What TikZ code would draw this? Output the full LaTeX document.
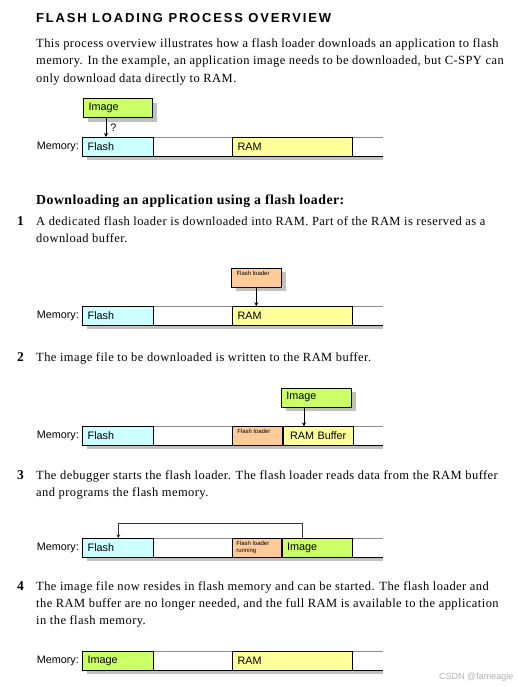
\documentclass[tikz,border=0pt]{standalone}
\usepackage{fontspec}
\setmainfont{Liberation Serif}[LetterSpace=3.5]
\setsansfont{Liberation Sans}
\newfontfamily\titlefam[LetterSpace=14]{Liberation Sans}
\usetikzlibrary{arrows.meta,positioning,calc,shadows}

\definecolor{flashcol}{HTML}{CCFFFF}
\definecolor{ramcol}{HTML}{FFFF99}
\definecolor{imgcol}{HTML}{CCFF66}
\definecolor{loadcol}{HTML}{FFCC99}
\definecolor{shadecol}{HTML}{C0C0C0}
\definecolor{barline}{HTML}{8C8C8C}

\newcommand{\bodyfont}{\fontsize{12.5}{17.4}\selectfont}
\newcommand{\boxfont}{\sffamily\fontsize{10.8}{13}\selectfont}
\newcommand{\tinyfont}{\sffamily\fontsize{6}{7}\selectfont}

\begin{document}
\begin{tikzpicture}[
  x=1pt, y=-1pt,
  >={Stealth[length=4pt, width=4pt]},
  title/.style={anchor=base west, inner sep=0pt, font=\titlefam\bfseries\fontsize{13}{15}\selectfont},
  body/.style={anchor=base west, inner sep=0pt, align=left, font=\bodyfont},
  head/.style={anchor=base west, inner sep=0pt, font=\bfseries\fontsize{13.8}{16}\selectfont},
  stepnum/.style={anchor=base west, inner sep=0pt, font=\bfseries\fontsize{13.5}{16}\selectfont},
  memlbl/.style={inner sep=0pt, font=\boxfont},
  bar/.style={anchor=north west, minimum width=300.4pt, minimum height=18.6pt, inner sep=0pt, fill=white},
  seg/.style={draw, line width=0.8pt, anchor=north west, minimum height=18.6pt, inner xsep=5pt, inner ysep=0pt, align=left, font=\boxfont},
  tag/.style={draw, line width=0.8pt, fill=imgcol, anchor=south west, minimum height=19pt, inner xsep=5pt, inner ysep=0pt, align=left, font=\boxfont,
    drop shadow={shadow xshift=4.5pt, shadow yshift=-4.5pt, fill=shadecol, opacity=1}},
  tiny/.style={anchor=north west, inner sep=0pt, align=left, font=\tinyfont},
  arrow/.style={->, line width=0.8pt}
]
  \useasboundingbox (0,0) rectangle (517,687);

  % heading and introduction (multi-line texts sit on their last line)
  \node[title] (title) at (36,22.3) {FLASH LOADING PROCESS OVERVIEW};
  \node[body] (intro) at (36,82.3) {This process overview illustrates how a flash loader downloads an application to flash\\
    memory. In the example, an application image needs to be downloaded, but C-SPY can\\
    only download data directly to RAM.};

  % overview: image cannot go to flash directly
  \node[bar] (bar0) at (82.3,137) {};
  \fill[shadecol] ($(bar0.south west)+(4.4,0)$) rectangle ($(bar0.south east)+(0,4)$);
  \draw[barline, line width=0.8pt] (bar0.north west) -- (bar0.north east);
  \draw[line width=0.8pt] (bar0.south west) -- (bar0.south east);
  \node[seg, fill=flashcol, text width=60.4pt] (fl0) at (bar0.north west) {Flash};
  \node[seg, fill=ramcol, text width=109.4pt, right=78.6pt of fl0] (ram0) {RAM};
  \node[memlbl, left=3.3pt of fl0] (mem0) {Memory:};
  \node[tag, text width=59pt] (img0) at (83.3,118.3) {Image};
  \coordinate (a0) at ($(img0.south west)+(22.7,0)$);
  \draw[arrow] (a0) -- node[right, inner sep=4pt, font=\boxfont] {?} (a0 |- fl0.north);

  \node[head] (dl) at (36,204) {Downloading an application using a flash loader:};

  % step 1
  \node[stepnum] (n1) at (17,225) {1};
  \node[body] (s1) at (36,242.4) {A dedicated flash loader is downloaded into RAM. Part of the RAM is reserved as a\\
    download buffer.};
  \node[bar] (bar1) at (82.3,306.3) {};
  \fill[shadecol] ($(bar1.south west)+(4.4,0)$) rectangle ($(bar1.south east)+(0,4)$);
  \draw[barline, line width=0.8pt] (bar1.north west) -- (bar1.north east);
  \draw[line width=0.8pt] (bar1.south west) -- (bar1.south east);
  \node[seg, fill=flashcol, text width=60.4pt] (fl1) at (bar1.north west) {Flash};
  \node[seg, fill=ramcol, text width=109.4pt, right=78.6pt of fl1] (ram1) {RAM};
  \node[memlbl, left=3.3pt of fl1] (mem1) {Memory:};
  \node[tag, fill=loadcol, text width=39.4pt] (ldr1) at (231.3,287.3) {};
  \node[tiny] (ldr1t) at ([xshift=5pt, yshift=-3pt]ldr1.north west) {Flash loader};
  \draw[arrow] (ldr1.south) -- (ldr1.south |- ram1.north);

  % step 2
  \node[stepnum] (n2) at (17,361.7) {2};
  \node[body] (s2) at (36,361.7) {The image file to be downloaded is written to the RAM buffer.};
  \node[bar] (bar2) at (82.3,426.3) {};
  \fill[shadecol] ($(bar2.south west)+(4.4,0)$) rectangle ($(bar2.south east)+(0,4)$);
  \draw[barline, line width=0.8pt] (bar2.north west) -- (bar2.north east);
  \draw[line width=0.8pt] (bar2.south west) -- (bar2.south east);
  \node[seg, fill=flashcol, text width=60.4pt] (fl2) at (bar2.north west) {Flash};
  \node[seg, fill=loadcol, text width=40pt, right=78.6pt of fl2] (ldr2) {};
  \node[tiny] (ldr2t) at ([xshift=5pt, yshift=-3pt]ldr2.north west) {Flash loader};
  \node[seg, fill=ramcol, text width=59.7pt, align=center, right=0pt of ldr2] (buf2) {RAM Buffer};
  \node[memlbl, left=3.3pt of fl2] (mem2) {Memory:};
  \node[tag, text width=60.3pt] (img2) at (281,407.3) {Image};
  \coordinate (a2) at ($(img2.south west)+(23,0)$);
  \draw[arrow] (a2) -- (a2 |- buf2.north);

  % step 3
  \node[stepnum] (n3) at (17,479.3) {3};
  \node[body] (s3) at (36,496.7) {The debugger starts the flash loader. The flash loader reads data from the RAM buffer\\
    and programs the flash memory.};
  \node[bar] (bar3) at (82.3,538.3) {};
  \fill[shadecol] ($(bar3.south west)+(4.4,0)$) rectangle ($(bar3.south east)+(0,4)$);
  \draw[barline, line width=0.8pt] (bar3.north west) -- (bar3.north east);
  \draw[line width=0.8pt] (bar3.south west) -- (bar3.south east);
  \node[seg, fill=flashcol, text width=60.4pt] (fl3) at (bar3.north west) {Flash};
  \node[seg, fill=loadcol, text width=38.8pt, right=78.6pt of fl3] (ldr3) {};
  \node[tiny] (ldr3t) at ([xshift=4pt, yshift=-2.5pt]ldr3.north west) {Flash loader\\running};
  \node[seg, fill=imgcol, text width=60pt, right=0pt of ldr3] (img3) {Image};
  \node[memlbl, left=3.3pt of fl3] (mem3) {Memory:};
  \draw[arrow, black!80] ($(img3.north west)+(21,0)$) -- ++(0,-15) -| ($(fl3.north west)+(36,0)$);

  % step 4
  \node[stepnum] (n4) at (17,590) {4};
  \node[body] (s4) at (36,624.8) {The image file now resides in flash memory and can be started. The flash loader and\\
    the RAM buffer are no longer needed, and the full RAM is available to the application\\
    in the flash memory.};
  \node[bar] (bar4) at (82.3,651) {};
  \fill[shadecol] ($(bar4.south west)+(4.4,0)$) rectangle ($(bar4.south east)+(0,4)$);
  \draw[barline, line width=0.8pt] (bar4.north west) -- (bar4.north east);
  \draw[line width=0.8pt] (bar4.south west) -- (bar4.south east);
  \node[seg, fill=imgcol, text width=60.4pt] (fl4) at (bar4.north west) {Image};
  \node[seg, fill=ramcol, text width=109.4pt, right=78.6pt of fl4] (ram4) {RAM};
  \node[memlbl, left=3.3pt of fl4] (mem4) {Memory:};

  \node[anchor=base west, inner sep=0pt, text=black!30, font=\sffamily\fontsize{9}{10}\selectfont] (mark) at (439,679) {CSDN @fameagle};
\end{tikzpicture}
\end{document}
